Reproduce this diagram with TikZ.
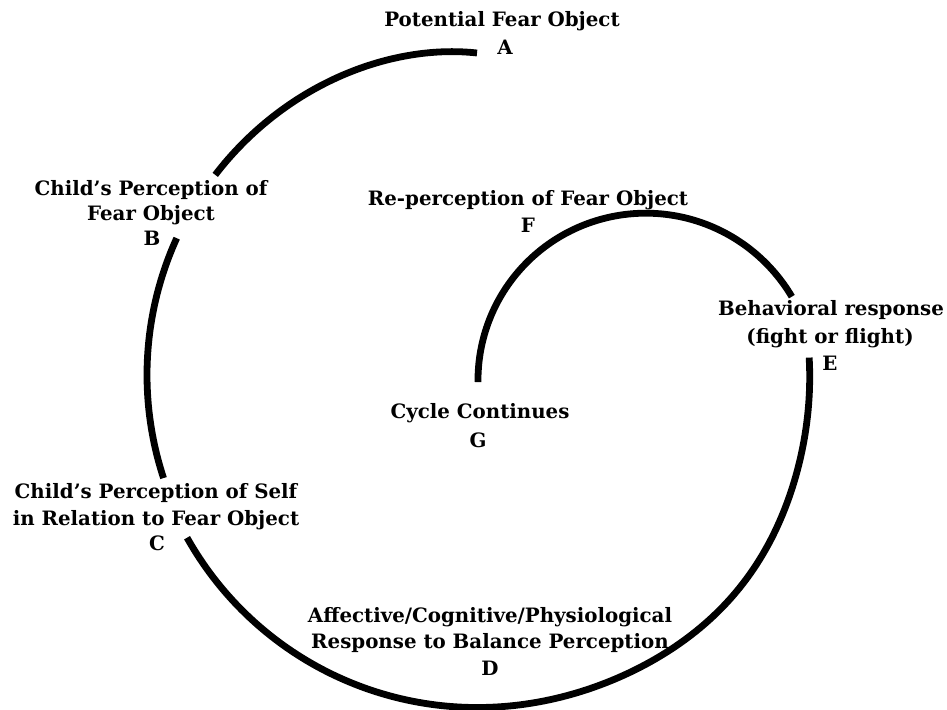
\documentclass[tikz,border=0pt]{standalone}
\usepackage{fontspec}
\setmainfont{DejaVu Serif}
\begin{document}
\begin{tikzpicture}[x=1pt,y=-1pt,
  lbl/.style={font=\fontsize{19.8}{23}\selectfont\bfseries, anchor=base, inner sep=0pt},
  spiral/.style={line width=6.8pt, line join=round, black},
  declare function={
    rA(\t)=329.6-7.6*exp(-(\t-90)/12);
    rC(\t)=332.5+5.5*exp(-((\t-320)/22)^2);
    rF(\t)=166+(180-\t)/150*4.7;
  }]
\useasboundingbox (0,0) rectangle (947,709);
% labels
\node[lbl] (A1) at (502,27) {Potential Fear Object};
\node[lbl] (A)  at (505,55) {A};
\node[lbl] (B1) at (151,195) {Child's Perception of};
\node[lbl] (B2) at (151,220) {Fear Object};
\node[lbl] (B)  at (152,245) {B};
\node[lbl] (C1) at (156,498) {Child's Perception of Self};
\node[lbl] (C2) at (156,525) {in Relation to Fear Object};
\node[lbl] (C)  at (157,550) {C};
\node[lbl] (D1) at (490,622) {Affective/Cognitive/Physiological};
\node[lbl] (D2) at (490,648) {Response to Balance Perception};
\node[lbl] (D)  at (490,675) {D};
\node[lbl] (E1) at (831,315) {Behavioral response};
\node[lbl] (E2) at (830,343) {(fight or flight)};
\node[lbl] (E)  at (830,370) {E};
\node[lbl] (F1) at (528,205) {Re-perception of Fear Object};
\node[lbl] (F)  at (528,232) {F};
\node[lbl] (G1) at (480,418) {Cycle Continues};
\node[lbl] (G)  at (478,447) {G};
% spiral centres
\coordinate (o) at (477,375);
\coordinate (i) at (644,382);
% A -> B
\draw[spiral] plot[domain=90:142.6, samples=60] ({477+rA(\x)*cos(\x)}, {375-rA(\x)*sin(\x)});
% B -> C
\draw[spiral] plot[domain=155.5:198.2, samples=50] ({477+330*cos(\x)}, {375-330*sin(\x)});
% C -> D -> E
\draw[spiral] plot[domain=209.3:363, samples=150] ({477+rC(\x)*cos(\x)}, {375-rC(\x)*sin(\x)});
% E -> F -> G
\draw[spiral] plot[domain=30:180, samples=120] ({644+rF(\x)*cos(\x)}, {382-rF(\x)*sin(\x)});
\end{tikzpicture}
\end{document}
